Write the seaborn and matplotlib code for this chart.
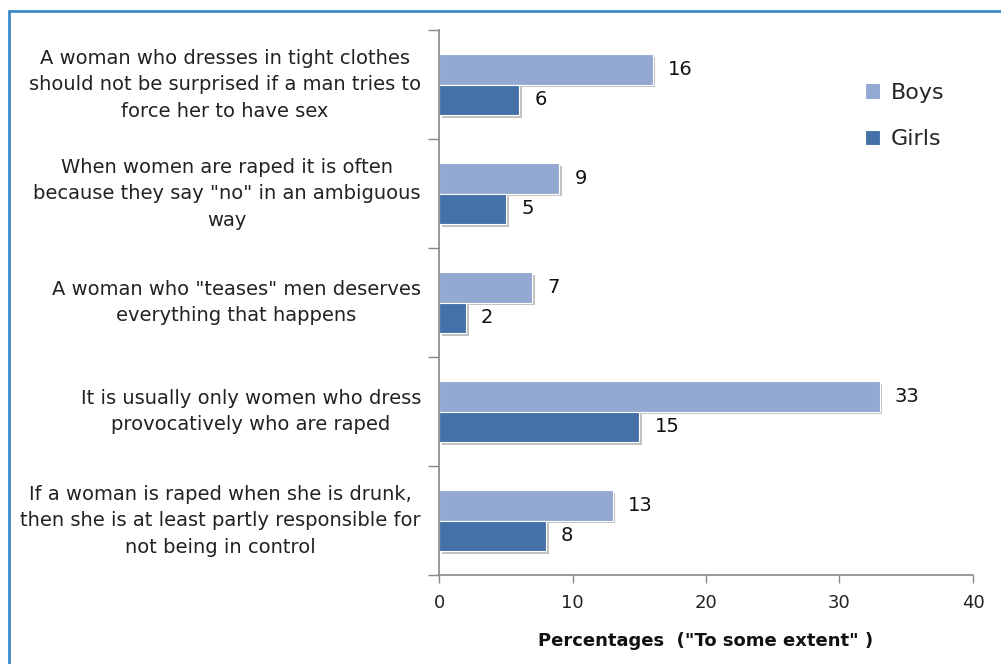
import matplotlib
matplotlib.use("Agg")
import matplotlib.pyplot as plt
import matplotlib.patheffects as pe
from matplotlib.patches import Rectangle
from matplotlib.ticker import FixedLocator
import pandas as pd
import seaborn as sns

statements = [
    "A woman who dresses in tight clothes\nshould not be surprised if a man tries to\nforce her to have sex",
    "When women are raped it is often\nbecause they say \"no\" in an ambiguous\nway",
    "A woman who \"teases\" men deserves\neverything that happens",
    "It is usually only women who dress\nprovocatively who are raped",
    "If a woman is raped when she is drunk,\nthen she is at least partly responsible for\nnot being in control",
]
boys = [16, 9, 7, 33, 13]
girls = [6, 5, 2, 15, 8]
groups = ["Boys", "Girls"]
x_ticks = [0, 10, 20, 30, 40]
x_label = "Percentages  (\"To some extent\" )"

df = pd.DataFrame({
    "statement": statements * 2,
    "pct": boys + girls,
    "group": [groups[0]] * len(boys) + [groups[1]] * len(girls),
})

sns.set_theme(style="white")
plt.rcParams["font.family"] = ["DejaVu Sans"]

fig = plt.figure(figsize=(10.01, 6.64), dpi=100)
ax = fig.add_axes([0.4386, 0.134, 0.972 - 0.4386, 0.9548 - 0.134])

palette = {"Boys": "#94a9d2", "Girls": "#4472a8"}
sns.barplot(data=df, y="statement", x="pct", hue="group", orient="h",
            palette=palette, width=0.56, edgecolor="white", linewidth=0.8,
            ax=ax, saturation=1)

shadow = [pe.SimplePatchShadow(offset=(2, -2), shadow_rgbFace="#777777", alpha=0.45),
          pe.Normal()]
for patch in ax.patches:
    patch.set_path_effects(shadow)

for cont in ax.containers:
    ax.bar_label(cont, padding=11, fontsize=14, color="#111111")

ax.set_xlim(0, 40)
ax.set_ylim(len(statements) - 0.5, -0.5)
ax.set_xticks(x_ticks)
ax.set_xticklabels([str(t) for t in x_ticks], fontsize=13, color="#222222")
ax.set_xlabel(x_label, fontsize=13, fontweight="bold", labelpad=14, color="#111111")
ax.set_ylabel("")

ax.set_yticks(range(len(statements)))
ax.set_yticklabels(statements, fontsize=14, color="#222222",
                   multialignment="center", linespacing=1.5, va="center")
ax.yaxis.set_minor_locator(FixedLocator([i - 0.5 for i in range(len(statements) + 1)]))
ax.tick_params(axis="y", which="major", length=0, pad=13)
ax.tick_params(axis="y", which="minor", length=8, width=1, color="#888888", left=True)
ax.tick_params(axis="x", which="major", length=6, width=1, color="#888888",
               bottom=True, pad=8)

for side in ["top", "right"]:
    ax.spines[side].set_visible(False)
for side in ["left", "bottom"]:
    ax.spines[side].set_color("#888888")
    ax.spines[side].set_linewidth(1.2)

leg = ax.legend(loc="upper left", bbox_to_anchor=(0.76, 0.94), frameon=False,
                fontsize=16, handlelength=0.7, handleheight=0.7,
                labelspacing=1.2, handletextpad=0.45)
for h in leg.legend_handles:
    h.set_path_effects([])
    h.set_edgecolor("white")

# outer blue frame
frame = Rectangle((9 / 1001, -0.2), 1.2, 1.2 - 11 / 664, transform=fig.transFigure,
                  fill=False, edgecolor="#3d8bc9", linewidth=2, clip_on=False)
fig.patches.append(frame)

fig.savefig("out.png", dpi=100)
